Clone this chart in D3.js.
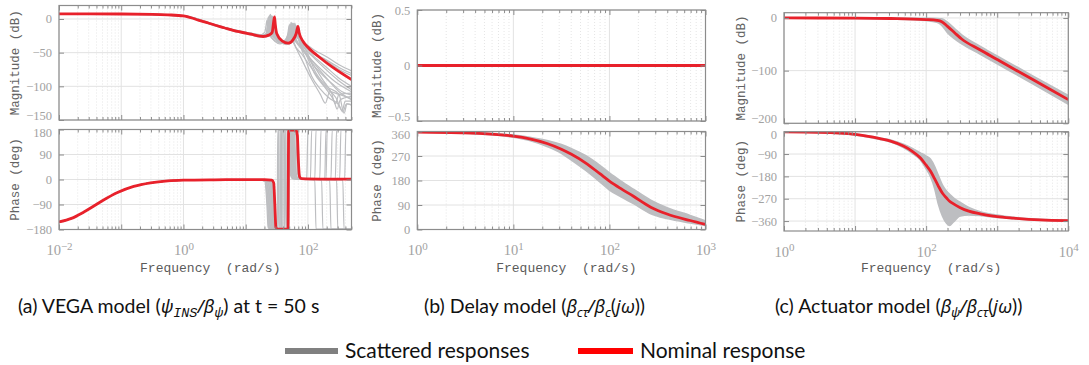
<!DOCTYPE html>
<html><head><meta charset="utf-8">
<script src="https://cdn.jsdelivr.net/npm/d3@7"></script>
<style>body{margin:0;background:#fff}svg{display:block}</style>
</head><body><svg id="c" width="1089" height="365"></svg>
<script>
// ---------------- DATA (frequency as log10 exponent of rad/s) ----------------
// Panel (a) VEGA model
const aMagNominal = [[-2,7.5],[-1,7.4],[-0.5,6.9],[-0.25,6.1],[0,4.5],[0.12,1.8],[0.25,-2],[0.4,-6],[0.5,-9],[0.65,-13],[0.8,-17],[1.08,-22.5],[1.28,-26],[1.37,-24],[1.425,-20],[1.448,-5],[1.463,3],[1.475,-8],[1.5,-22],[1.59,-33],[1.68,-36],[1.76,-31],[1.81,-22],[1.84,-11],[1.86,-21],[1.92,-33],[2.0,-42],[2.2,-58],[2.4,-72],[2.7,-90]];
const aMagScatter = [
 [[-2,8],[-1,7.9],[-0.5,7.2],[0,5],[0.5,-8],[0.8,-16],[1.08,-21.5],[1.28,-25],[1.365,-21],[1.388,-5],[1.40,7],[1.412,-7],[1.44,-22],[1.52,-32],[1.58,-35],[1.66,-30],[1.705,-20],[1.73,-5],[1.75,-19],[1.8,-32],[1.9,-45],[2.05,-60],[2.25,-78],[2.45,-94],[2.7,-108]],
 [[-2,7],[-1,7],[-0.5,6.3],[0,4],[0.5,-10],[0.8,-18],[1.08,-23.5],[1.24,-27],[1.325,-23],[1.348,-8],[1.36,2],[1.372,-10],[1.40,-24],[1.48,-34],[1.55,-37],[1.63,-32],[1.675,-23],[1.70,-9],[1.72,-22],[1.77,-36],[1.9,-52],[2.05,-72],[2.25,-98],[2.45,-117],[2.55,-136],[2.6,-122],[2.7,-122]],
 [[-2,7.6],[-1,7.5],[-0.5,7],[0,4.8],[0.5,-8.5],[0.8,-16],[1.08,-21],[1.31,-24],[1.395,-20],[1.418,-6],[1.43,4],[1.442,-7],[1.47,-21],[1.55,-31],[1.62,-34],[1.71,-29],[1.755,-19],[1.78,-8],[1.80,-18],[1.85,-30],[1.95,-40],[2.1,-52],[2.3,-62],[2.5,-75],[2.7,-84]],
 [[-2,7.3],[-1,7.2],[-0.5,6.6],[0,4.3],[0.5,-9.5],[0.8,-17],[1.08,-22],[1.26,-25],[1.345,-21],[1.368,-4],[1.38,5],[1.392,-6],[1.42,-21],[1.5,-31],[1.58,-34],[1.69,-29],[1.735,-18],[1.76,-6],[1.78,-17],[1.83,-28],[1.95,-36],[2.1,-46],[2.3,-56],[2.5,-68],[2.7,-77]],
 [[-2,7.8],[-1,7.7],[-0.5,7],[0,4.6],[0.5,-8.8],[0.8,-16.5],[1.08,-22],[1.33,-26],[1.415,-22],[1.438,-9],[1.45,0],[1.462,-11],[1.49,-25],[1.57,-35],[1.65,-38],[1.75,-33],[1.795,-24],[1.82,-12],[1.84,-23],[1.89,-38],[1.98,-55],[2.1,-80],[2.3,-105],[2.42,-122],[2.47,-134],[2.52,-120],[2.7,-115]],
 [[-2,7.2],[-1,7.1],[-0.5,6.5],[0,4.2],[0.5,-9.2],[0.8,-17],[1.08,-22.5],[1.29,-26],[1.375,-22],[1.398,-7],[1.41,3],[1.422,-9],[1.45,-23],[1.53,-33],[1.6,-36],[1.68,-31],[1.725,-21],[1.75,-7],[1.77,-20],[1.82,-33],[1.95,-48],[2.1,-66],[2.3,-88],[2.5,-108],[2.7,-120]],
 [[-2,7.9],[-1,7.8],[-0.5,7.1],[0,4.9],[0.5,-8.2],[0.8,-15.8],[1.08,-21],[1.22,-24],[1.305,-20],[1.328,-9],[1.34,-2],[1.352,-11],[1.38,-23],[1.46,-32],[1.54,-35],[1.65,-30],[1.695,-21],[1.72,-10],[1.74,-21],[1.79,-33],[1.95,-42],[2.1,-56],[2.3,-72],[2.5,-88],[2.7,-100]],
 [[-2,7.4],[-1,7.3],[-0.5,6.7],[0,4.4],[0.5,-9],[0.8,-17],[1.08,-22],[1.35,-26],[1.435,-22],[1.458,-8],[1.47,1],[1.482,-10],[1.51,-24],[1.59,-34],[1.67,-37],[1.78,-32],[1.825,-24],[1.85,-14],[1.87,-24],[1.92,-38],[2.0,-52],[2.1,-75],[2.3,-100],[2.5,-112],[2.58,-140],[2.63,-126],[2.7,-128]],
 [[-2,7.7],[-1,7.6],[-0.5,6.9],[0,4.7],[0.5,-8.6],[0.8,-16.2],[1.08,-21.2],[1.27,-24.5],[1.355,-20],[1.378,-4],[1.39,6],[1.402,-6],[1.43,-21],[1.51,-31],[1.6,-34],[1.72,-30],[1.765,-19],[1.79,-6],[1.81,-18],[1.86,-31],[1.95,-44],[2.1,-58],[2.3,-76],[2.5,-92],[2.7,-105]],
 [[-2,7.1],[-1,7],[-0.5,6.4],[0,4.1],[0.5,-9.6],[0.8,-17.3],[1.08,-22.8],[1.32,-26.5],[1.405,-22],[1.428,-8],[1.44,2],[1.452,-10],[1.48,-25],[1.54,-33],[1.6,-35],[1.645,-31],[1.685,-21],[1.71,-8],[1.73,-21],[1.78,-36],[1.9,-60],[2.05,-88],[2.2,-112],[2.28,-125],[2.35,-108],[2.5,-112],[2.7,-118]],
 [[-2,7.5],[-1,7.4],[-0.5,6.8],[0,4.5],[0.5,-9],[0.8,-16.8],[1.08,-22],[1.3,-25],[1.385,-21],[1.408,-6],[1.42,4],[1.432,-8],[1.46,-22],[1.54,-32],[1.61,-35],[1.70,-30],[1.745,-20],[1.77,-7],[1.79,-18],[1.84,-28],[1.95,-38],[2.1,-50],[2.3,-61],[2.5,-72],[2.7,-81]],
 [[-2,7.3],[-1,7.2],[-0.5,6.6],[0,4.3],[0.5,-9.3],[0.8,-17.1],[1.08,-22.3],[1.34,-26],[1.425,-22],[1.448,-7],[1.46,2],[1.472,-9],[1.5,-24],[1.58,-34],[1.66,-37],[1.74,-32],[1.785,-22],[1.81,-10],[1.83,-22],[1.88,-40],[1.96,-60],[2.06,-85],[2.2,-104],[2.35,-118],[2.5,-128],[2.56,-138],[2.62,-126],[2.7,-127]],
 [[-2,7.6],[-1,7.5],[-0.5,6.9],[0,4.6],[0.5,-8.8],[0.8,-16.4],[1.08,-21.6],[1.25,-25],[1.335,-21],[1.358,-6],[1.37,3],[1.382,-8],[1.41,-22],[1.49,-32],[1.56,-35],[1.67,-30],[1.715,-20],[1.74,-6],[1.76,-19],[1.81,-30],[1.92,-46],[2.05,-64],[2.2,-80],[2.4,-97],[2.55,-108],[2.7,-113]],
 [[-2,7.4],[-1,7.3],[-0.5,6.7],[0,4.4],[0.5,-9.1],[0.8,-16.9],[1.08,-22.1],[1.3,-25.5],[1.385,-21],[1.408,-5],[1.42,5],[1.432,-7],[1.46,-22],[1.54,-32],[1.62,-35],[1.73,-30],[1.775,-20],[1.80,-9],[1.82,-20],[1.87,-35],[1.98,-52],[2.1,-70],[2.25,-92],[2.38,-110],[2.44,-126],[2.5,-112],[2.7,-110]]
];
const aPhaseLow = [[-2,-153],[-1.8,-140],[-1.6,-117],[-1.33,-80],[-1.06,-47],[-0.8,-25],[-0.53,-12],[-0.25,-5],[0,-2.5],[0.5,-1],[1.0,-0.5]];
const aPhaseNominalHigh = [[1.3,-0.5],[1.42,-2],[1.45,-12],[1.468,-90],[1.485,-172],[1.51,-179],[1.68,-179],[1.69,179],[1.81,178],[1.83,160],[1.848,60],[1.865,10],[1.9,3],[2.2,1.5],[2.7,1]];
const aPhaseScatterHigh = [
 [[1.3,-2],[1.37,-8],[1.4,-90],[1.42,-172],[1.45,-179],[1.545,-179],[1.555,179],[1.69,178],[1.715,160],[1.73,90],[1.745,20],[1.78,3],[2.04,2],[2.06,178],[2.7,179]],
 [[1.28,-2],[1.33,-8],[1.36,-90],[1.38,-172],[1.41,-179],[1.515,-179],[1.525,179],[1.66,178],[1.685,160],[1.70,90],[1.715,20],[1.75,3],[2.11,-2],[2.13,-178],[2.7,-179]],
 [[1.33,-2],[1.40,-8],[1.43,-90],[1.45,-172],[1.48,-179],[1.615,-179],[1.625,179],[1.74,178],[1.765,160],[1.78,90],[1.795,20],[1.83,3],[2.44,2],[2.46,178],[2.7,179]],
 [[1.3,-2],[1.35,-8],[1.38,-90],[1.40,-172],[1.43,-179],[1.575,-179],[1.585,179],[1.72,178],[1.745,160],[1.76,90],[1.775,20],[1.81,3],[2.59,2],[2.61,178],[2.7,179]],
 [[1.35,-2],[1.42,-8],[1.45,-90],[1.47,-172],[1.5,-179],[1.655,-179],[1.665,179],[1.78,178],[1.805,160],[1.82,90],[1.835,20],[1.87,3],[2.35,-2],[2.37,-178],[2.7,-179]],
 [[1.31,-2],[1.38,-8],[1.41,-90],[1.43,-172],[1.46,-179],[1.595,-179],[1.605,179],[1.71,178],[1.735,160],[1.75,90],[1.765,20],[1.8,3],[2.19,2],[2.21,178],[2.7,179]],
 [[1.25,-2],[1.31,-8],[1.34,-90],[1.36,-172],[1.39,-179],[1.525,-179],[1.535,179],[1.68,178],[1.705,160],[1.72,90],[1.735,20],[1.77,3],[2.29,2],[2.31,178],[2.7,179]],
 [[1.37,-2],[1.44,-8],[1.47,-90],[1.49,-172],[1.52,-179],[1.695,-179],[1.705,179],[1.81,178],[1.835,160],[1.85,90],[1.865,20],[1.9,3],[2.56,-2],[2.58,-178],[2.7,-179]],
 [[1.3,-2],[1.36,-8],[1.39,-90],[1.41,-172],[1.44,-179],[1.635,-179],[1.645,179],[1.75,178],[1.775,160],[1.79,90],[1.805,20],[1.84,3],[2.37,2],[2.39,178],[2.7,179]],
 [[1.34,-2],[1.41,-8],[1.44,-90],[1.46,-172],[1.49,-179],[1.565,-179],[1.575,179],[1.67,178],[1.695,160],[1.71,90],[1.725,20],[1.76,3],[2.11,2],[2.13,178],[2.7,179]],
 [[1.32,-2],[1.39,-8],[1.42,-90],[1.44,-172],[1.47,-179],[1.675,-179],[1.685,179],[1.73,178],[1.755,160],[1.77,90],[1.785,20],[1.82,3],[1.98,2],[2.0,178],[2.7,179]],
 [[1.28,-2],[1.34,-8],[1.37,-90],[1.39,-172],[1.42,-179],[1.625,-179],[1.635,179],[1.70,178],[1.725,160],[1.74,90],[1.755,20],[1.79,3],[2.22,-2],[2.24,-178],[2.7,-179]],
 [[1.36,-2],[1.43,-8],[1.46,-90],[1.48,-172],[1.51,-179],[1.555,-179],[1.565,179],[1.76,178],[1.785,160],[1.80,90],[1.815,20],[1.85,3],[2.51,2],[2.53,178],[2.7,179]],
 [[1.26,-2],[1.32,-8],[1.35,-90],[1.37,-172],[1.40,-179],[1.505,-179],[1.515,179],[1.79,178],[1.815,160],[1.83,90],[1.845,20],[1.88,3],[2.46,-2],[2.48,-178],[2.7,-179]],
 [[1.33,-2],[1.40,-8],[1.43,-90],[1.45,-172],[1.48,-179],[1.575,-179],[1.585,179],[1.72,178],[1.745,160],[1.76,90],[1.775,20],[1.81,3],[2.27,2],[2.29,178],[2.7,179]]
];
// Panel (b) Delay model
const bFreqExp = [0,0.5,1,1.17,1.35,1.5,1.6,1.75,1.9,2,2.12,2.25,2.43,2.6,2.84,3];
const bMagNominal = [0,0,0,0,0,0,0,0,0,0,0,0,0,0,0,0];
const bPhaseNominal = [358,355,343,333,316,295,277,245,205,178,150,122,82,57,33,19];
const bPhaseUpper = [359.5,357,347,339,327,312,298,272,236,208,178,148,108,80,52,32];
const bPhaseLower = [357,353,339,327,305,280,256,218,175,145,120,95,58,40,24,15];
// Panel (c) Actuator model
const cMagFreqExp = [0,1,1.5,2,2.15,2.22,2.3,2.4,2.5,2.75,3,3.5,4];
const cMagNominal = [0,-0.3,-1,-3,-4.5,-7,-16,-28,-40,-60,-79,-117,-155];
const cMagUpper = [0.5,0.3,0,-0.5,-0.8,-1.5,-8,-20,-32,-53,-72,-110,-147];
const cMagLower = [-0.5,-1,-2,-5,-8,-14,-28,-40,-49,-68,-87,-125,-164];
const cPhaseFreqExp = [0,0.5,1,1.35,1.5,1.68,1.8,1.92,2.0,2.06,2.12,2.17,2.23,2.29,2.33,2.38,2.48,2.6,2.76,3,3.23,3.6,4];
const cPhaseNominal = [-1,-3,-11,-28,-38,-58,-78,-106,-135,-158,-190,-218,-248,-268,-280,-290,-306,-320,-331,-342,-348,-355,-358];
const cPhaseUpper = [-0.5,-2,-9,-25,-33,-50,-66,-85,-98,-110,-140,-175,-215,-240,-252,-265,-285,-305,-322,-336,-345,-353,-357];
const cPhaseLower = [-1.5,-4,-13,-31,-42,-64,-86,-114,-150,-180,-230,-290,-340,-370,-378,-365,-340,-336,-338,-346,-351,-357,-360];
// Tick values
const aMagTicks = [0,-50,-100,-150];
const aPhaseTicks = [180,90,0,-90,-180];
const bMagTicks = [0.5,0,-0.5];
const bPhaseTicks = [360,270,180,90,0];
const cMagTicks = [0,-100,-200];
const cPhaseTicks = [0,-90,-180,-270,-360];
const aXExps = [-2,0,2];
const bXExps = [0,1,2,3];
const cXExps = [0,2,4];
const captions = ["(a)","(b)","(c)"];
const legendLabels = ["Scattered responses","Nominal response"];

// ---------------- DRAWING ----------------
const svg = d3.select('#c');
const GRAY = '#bdbec1', RED = '#e8212b', BORDER = '#8c8c8c';
let clipN = 0;
const zip = (xs, ys) => xs.map((e,i)=>[e, ys[i]]);

function subplot(o){
  const x = d3.scaleLog().domain(o.xd).range([o.x0, o.x1]);
  const y = d3.scaleLinear().domain(o.yd).range([o.y1, o.y0]);
  const g = svg.append('g');
  const id = 'clip' + (clipN++);
  g.append('clipPath').attr('id', id).append('rect')
    .attr('x', o.x0).attr('y', o.y0).attr('width', o.x1-o.x0).attr('height', o.y1-o.y0);
  const majors = [], minors = [];
  const e0 = Math.floor(Math.log10(o.xd[0])-1e-9), e1 = Math.ceil(Math.log10(o.xd[1]));
  for (let e=e0; e<=e1; e++) for (let k=1; k<10; k++){
    const v = k*Math.pow(10,e);
    if (v < o.xd[0]*0.999 || v > o.xd[1]*1.001) continue;
    (k===1 ? majors : minors).push(v);
  }
  const gg = g.append('g');
  gg.selectAll('.mn').data(minors).join('line')
    .attr('x1', d=>x(d)).attr('x2', d=>x(d)).attr('y1', o.y0).attr('y2', o.y1)
    .attr('stroke', '#dedede').attr('stroke-width', 0.8).attr('stroke-dasharray', '1,2');
  gg.selectAll('.mj').data(majors).join('line')
    .attr('x1', d=>x(d)).attr('x2', d=>x(d)).attr('y1', o.y0).attr('y2', o.y1)
    .attr('stroke', '#e2e2e2').attr('stroke-width', 1);
  gg.selectAll('.hy').data(o.yt).join('line')
    .attr('x1', o.x0).attr('x2', o.x1).attr('y1', d=>y(d)).attr('y2', d=>y(d))
    .attr('stroke', '#e2e2e2').attr('stroke-width', 1);
  const plot = g.append('g').attr('clip-path', `url(#${id})`);
  const line = d3.line().x(d=>x(Math.pow(10,d[0]))).y(d=>y(d[1])).curve(d3.curveMonotoneX);
  const area = d3.area().x(d=>x(Math.pow(10,d[0]))).y0(d=>y(d[1])).y1(d=>y(d[2])).curve(d3.curveMonotoneX);
  if (o.band){
    plot.append('path').datum(o.band).attr('d', area).attr('fill', GRAY)
      .attr('stroke', GRAY).attr('stroke-width', 1.5);
  }
  (o.scatter||[]).forEach(s => plot.append('path').datum(s).attr('d', line)
      .attr('fill','none').attr('stroke', GRAY).attr('stroke-width', o.sw||1.3));
  plot.append('path').datum(o.nominal).attr('d', line)
    .attr('fill','none').attr('stroke', RED).attr('stroke-width', 2.8);
  g.append('rect').attr('x', o.x0).attr('y', o.y0).attr('width', o.x1-o.x0).attr('height', o.y1-o.y0)
    .attr('fill','none').attr('stroke', BORDER).attr('stroke-width', 1.2);
  const fmt = v => (v<0 ? '\u2212' + Math.abs(v) : String(v));
  const style = sel => { sel.select('.domain').remove(); sel.selectAll('line').attr('stroke', BORDER); };
  g.append('g').attr('transform', `translate(${o.x0},0)`)
    .call(d3.axisLeft(y).tickValues(o.yt).tickSizeInner(-5).tickSizeOuter(0).tickPadding(7).tickFormat(fmt))
    .call(style)
    .call(s => s.selectAll('text').attr('fill', '#a2a2a2').style('font-family','"Liberation Serif", serif').style('font-size','12.5px')
      .attr('dy', d => d === o.yd[0] ? (o.mag ? '-0.05em' : '0.32em') : (d === o.yd[1] && !o.mag ? '0.55em' : '0.32em')));
  g.append('g').attr('transform', `translate(${o.x1},0)`)
    .call(d3.axisRight(y).tickValues(o.yt).tickSizeInner(-5).tickSizeOuter(0).tickFormat(''))
    .call(style);
  [[d3.axisTop, o.y0],[d3.axisBottom, o.y1]].forEach(([ax, yy]) => {
    g.append('g').attr('transform', `translate(0,${yy})`)
      .call(ax(x).tickValues(minors).tickSizeInner(-3).tickSizeOuter(0).tickFormat('')).call(style);
  });
  g.append('g').attr('transform', `translate(0,${o.y0})`)
    .call(d3.axisTop(x).tickValues(majors).tickSizeInner(-5).tickSizeOuter(0).tickFormat('')).call(style);
  const bx = g.append('g').attr('transform', `translate(0,${o.y1})`)
    .call(d3.axisBottom(x).tickValues(majors).tickSizeInner(-5).tickSizeOuter(0).tickFormat(d=>String(Math.round(Math.log10(d)))))
    .call(style);
  if (o.xlabels){
    bx.selectAll('text').each(function(){
      const t = d3.select(this), ex = t.text();
      if (!o.xlabels.includes(+ex)) { t.remove(); return; }
      t.text('').attr('y', 25.5).attr('dy', null).attr('fill', '#a2a2a2')
        .style('font-family','"Liberation Serif", serif').style('font-size','14.5px');
      t.append('tspan').text('10');
      t.append('tspan').attr('dy', -5.5).style('font-size','11px').text(ex.startsWith('-') ? '\u2212' + ex.slice(1) : ex);
    });
    g.append('text').attr('x', (o.x0+o.x1)/2 + 5).attr('y', 272)
      .attr('text-anchor','middle').attr('fill','#5a5a5a')
      .style('font-family','"Liberation Mono", monospace').style('font-size','13px').style('white-space','pre')
      .text('Frequency  (rad/s)');
  } else {
    bx.selectAll('text').remove();
  }
  g.append('text').attr('transform', `translate(${o.lx},${(o.y0+o.y1)/2}) rotate(-90)`)
    .attr('text-anchor','middle').attr('dy','0.35em').attr('fill','#636363')
    .style('font-family','"Liberation Mono", monospace').style('font-size','12.5px').style('white-space','pre')
    .text(o.ylabel);
  return {x,y};
}

// Panel (a)
const aX = [0.01, Math.pow(10,2.7)];
subplot({x0:59, x1:351.5, y0:5.5, y1:120, xd:aX, yd:[-150,20], yt:aMagTicks, lx:15, mag:true,
  ylabel:'Magnitude (dB)', scatter:aMagScatter, nominal:aMagNominal, sw:1.2});
subplot({x0:59, x1:351.5, y0:129.5, y1:229.5, xd:aX, yd:[-180,180], yt:aPhaseTicks, lx:15,
  ylabel:'Phase (deg)', scatter:aPhaseScatterHigh.map(h => aPhaseLow.concat(h)),
  nominal:aPhaseLow.concat(aPhaseNominalHigh), xlabels:aXExps, sw:1.2});
// Panel (b)
const bX = [1, 1000];
const bMag = zip(bFreqExp, bMagNominal);
subplot({x0:417.3, x1:705.5, y0:10, y1:121, xd:bX, yd:[-0.5,0.5], yt:bMagTicks, lx:377, mag:true,
  ylabel:'Magnitude (dB)', scatter:[bMag], nominal:bMag, sw:3});
subplot({x0:417.3, x1:705.5, y0:131.5, y1:229.5, xd:bX, yd:[0,360], yt:bPhaseTicks, lx:377,
  ylabel:'Phase (deg)', band:bFreqExp.map((e,i)=>[e,bPhaseLower[i],bPhaseUpper[i]]),
  nominal:zip(bFreqExp,bPhaseNominal), xlabels:bXExps});
// Panel (c)
const cX = [1, 10000];
subplot({x0:784, x1:1068.3, y0:12.7, y1:123.3, xd:cX, yd:[-200,10], yt:cMagTicks, lx:741, mag:true,
  ylabel:'Magnitude (dB)', band:cMagFreqExp.map((e,i)=>[e,cMagLower[i],cMagUpper[i]]),
  nominal:zip(cMagFreqExp,cMagNominal)});
subplot({x0:784, x1:1068.3, y0:131.7, y1:231, xd:cX, yd:[-400,0], yt:cPhaseTicks, lx:741,
  ylabel:'Phase (deg)', band:cPhaseFreqExp.map((e,i)=>[e,cPhaseLower[i],cPhaseUpper[i]]),
  nominal:zip(cPhaseFreqExp,cPhaseNominal), xlabels:cXExps});

// Captions
const SANS = 'Lato, "Noto Sans", sans-serif';
function caption(x, parts){
  const t = svg.append('text').attr('x', x).attr('y', 313).attr('fill','#111')
    .style('font-family', SANS).style('font-size','19.5px').style('white-space','pre');
  let cur = 0;
  parts.forEach(p => {
    const [txt, kind] = p;
    const target = kind === 'sub' || kind === 'subm' ? 4 : 0;
    const ts = t.append('tspan').text(txt).attr('dy', target - cur);
    cur = target;
    if (kind === 'i') ts.style('font-style','italic').style('font-family','"Noto Sans", sans-serif').style('font-size','18px');
    if (kind === 'sub') ts.style('font-style','italic').style('font-family','"Noto Sans", sans-serif').style('font-size','13px');
    if (kind === 'subm') ts.style('font-style','italic').style('font-family','"Liberation Mono", monospace').style('font-size','13.5px');
  });
}
caption(18, [[captions[0]+' VEGA model (','n'],['\u03C8','i'],['INS','subm'],['/','i'],['\u03B2','i'],['\u03C8','sub'],[') at t = 50 s','n']]);
caption(424, [[captions[1]+' Delay model (','n'],['\u03B2','i'],['c\u03C4','sub'],['/','i'],['\u03B2','i'],['c','sub'],['(','n'],['j\u03C9','i'],['))','n']]);
caption(775, [[captions[2]+' Actuator model (','n'],['\u03B2','i'],['\u03C8','sub'],['/','i'],['\u03B2','i'],['c\u03C4','sub'],['(','n'],['j\u03C9','i'],['))','n']]);

// Legend
const leg = svg.append('g');
[[285,338,'#808080',345,legendLabels[0]],[578,633,'#ff0000',640,legendLabels[1]]].forEach(([a,b,c,tx,lab]) => {
  leg.append('line').attr('x1',a).attr('x2',b).attr('y1',351).attr('y2',351).attr('stroke',c).attr('stroke-width',6);
  leg.append('text').attr('x',tx).attr('y',358).attr('fill','#111')
    .style('font-family',SANS).style('font-size','21px').text(lab);
});
</script></body></html>
